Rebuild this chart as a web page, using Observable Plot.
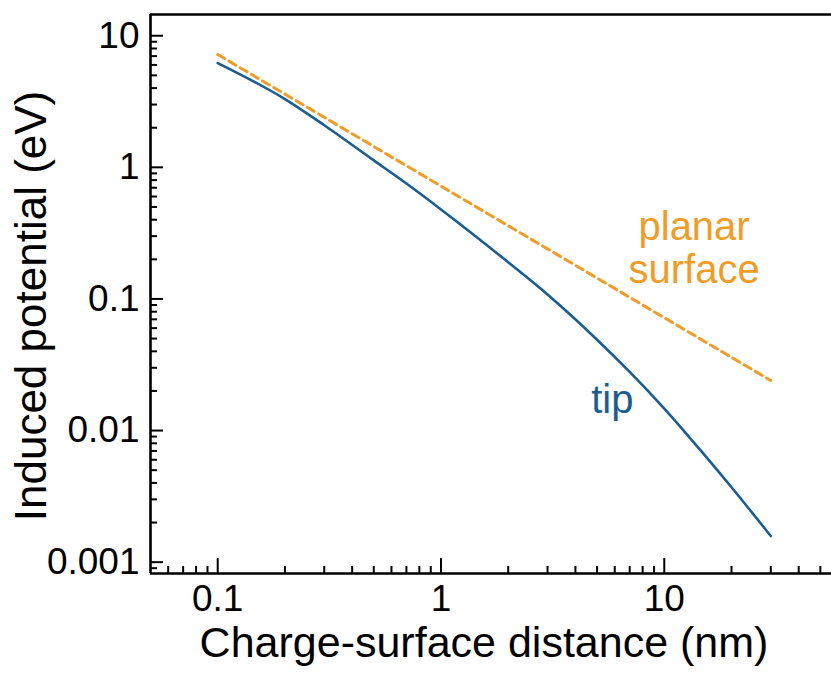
<!DOCTYPE html>
<html>
<head>
<meta charset="utf-8">
<script src="https://cdn.jsdelivr.net/npm/d3@7"></script>
<script src="https://cdn.jsdelivr.net/npm/@observablehq/plot@0.6"></script>
<style>
  html, body { margin: 0; padding: 0; background: #fff; overflow: hidden; }
</style>
</head>
<body>
<div id="chart"></div>
<script>
// Charge-surface distance (nm) and induced potential (eV)
const tipDistance = [0.1, 0.2, 0.3, 0.5, 0.7, 1, 2, 3, 5, 7, 10, 15, 20, 30];
const tipPotential = [6.2, 3.3, 2.09, 1.13, 0.753, 0.479, 0.19, 0.108, 0.049, 0.0279, 0.0147, 0.00665, 0.00371, 0.00158];
const planarDistance = [0.1, 0.3, 1, 3, 10, 30];
const planarPotential = [7.2, 2.4, 0.72, 0.24, 0.072, 0.024];

// Axis ticks
const xDomain = [0.05, 56.1];
const yDomain = [0.00082, 14.5];
const xMajor = [0.1, 1, 10];
const xMinor = [0.06, 0.07, 0.08, 0.09, 0.2, 0.3, 0.4, 0.5, 0.6, 0.7, 0.8, 0.9, 2, 3, 4, 5, 6, 7, 8, 9, 20, 30, 40, 50];
const yMajor = [0.001, 0.01, 0.1, 1, 10];
const yMinor = [0.0009,
  0.002, 0.003, 0.004, 0.005, 0.006, 0.007, 0.008, 0.009,
  0.02, 0.03, 0.04, 0.05, 0.06, 0.07, 0.08, 0.09,
  0.2, 0.3, 0.4, 0.5, 0.6, 0.7, 0.8, 0.9,
  2, 3, 4, 5, 6, 7, 8, 9];

// Series labels
const seriesLabels = [
  {name: "planar\nsurface", x: 13.6, y: 0.2466, color: "#ef9d28"},
  {name: "tip", x: 5.85, y: 0.01726, color: "#1b5c91"}
];
const xTitle = "Charge-surface distance (nm)";
const yTitle = "Induced potential (eV)";

const tip = tipDistance.map((d, i) => ({d, v: tipPotential[i]}));
const planar = planarDistance.map((d, i) => ({d, v: planarPotential[i]}));

const W = 831, H = 675;
const mL = 150, mR = 0, mT = 14, mB = 102;
const innerW = W - mL - mR, innerH = H - mT - mB;

const chart = Plot.plot({
  width: W,
  height: H,
  marginLeft: mL,
  marginRight: mR,
  marginTop: mT,
  marginBottom: mB,
  style: {fontFamily: "'Liberation Sans', Arial, Helvetica, sans-serif", fontSize: "37px", color: "black", background: "white"},
  x: {type: "log", domain: xDomain},
  y: {type: "log", domain: yDomain},
  marks: [
    // tick marks pointing inward
    Plot.tickX(xMajor, {x: d => d, insetTop: innerH - 15, stroke: "black", strokeWidth: 2}),
    Plot.tickX(xMinor, {x: d => d, insetTop: innerH - 7, stroke: "black", strokeWidth: 2}),
    Plot.tickY(yMajor, {y: d => d, insetRight: innerW - 13, stroke: "black", strokeWidth: 2}),
    Plot.tickY(yMinor, {y: d => d, insetRight: innerW - 7, stroke: "black", strokeWidth: 2}),
    // spines
    Plot.ruleX([xDomain[0]], {stroke: "black", strokeWidth: 2.6}),
    Plot.ruleY([yDomain[0]], {stroke: "black", strokeWidth: 2.6}),
    Plot.ruleY([yDomain[1]], {stroke: "black", strokeWidth: 2.6}),
    // tick labels
    Plot.axisX({ticks: xMajor, tickSize: 0, tickPadding: 11, tickFormat: d => String(d), label: null, fontSize: 37}),
    Plot.axisY({ticks: yMajor, tickSize: 0, tickPadding: 11, tickFormat: d => String(d), label: null, fontSize: 37}),
    // series
    Plot.line(planar, {x: "d", y: "v", stroke: "#ef9d28", strokeWidth: 3, strokeDasharray: "8,5"}),
    Plot.line(tip, {x: "d", y: "v", stroke: "#1b5c91", strokeWidth: 2.6, curve: "monotone-x"}),
    // series labels
    Plot.text(seriesLabels, {x: "x", y: "y", text: "name", fill: "color", fontSize: 40, lineHeight: 1.075, textAnchor: "middle", lineAnchor: "middle"}),
    // axis titles
    Plot.text([xTitle], {frameAnchor: "bottom", textAnchor: "middle", dy: 83, dx: -7, fontSize: 43, fill: "black"}),
    Plot.text([yTitle], {frameAnchor: "left", textAnchor: "middle", rotate: -90, dx: -119, dy: 12, fontSize: 44, fill: "black"})
  ]
});
document.getElementById("chart").appendChild(chart);
</script>
</body>
</html>
